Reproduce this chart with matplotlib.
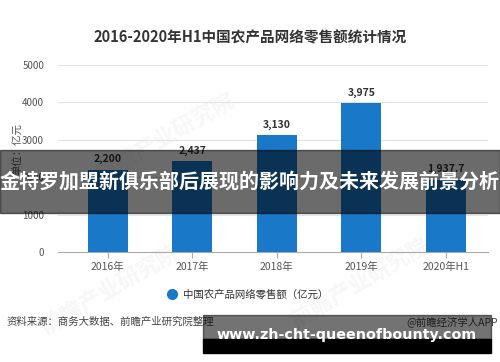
import matplotlib
matplotlib.use("Agg")
from matplotlib import pyplot as plt
from matplotlib.patches import Rectangle

plt.rcParams['font.family'] = ['Noto Sans CJK SC', 'DejaVu Sans']

# chart data
years = ['2016年', '2017年', '2018年', '2019年', '2020年H1']
sales = [2200, 2437, 3130, 3975, 1937.7]
value_labels = ['2,200', '2,437', '3,130', '3,975', '1,937.7']
y_ticks = [0, 1000, 2000, 3000, 4000, 5000]

title = '2016-2020年H1中国农产品网络零售额统计情况'
legend_label = '中国农产品网络零售额（亿元）'
source = '资料来源：商务大数据、前瞻产业研究院整理'
brand = '@前瞻经济学人APP'
banner = '金特罗加盟新俱乐部后展现的影响力及未来发展前景分析'
site = 'www.zh-cht-queenofbounty.com'

W, H = 500, 362
fig = plt.figure(figsize=(W / 100, H / 100), dpi=100)
fig.patch.set_facecolor('white')

def fx(px):
    return px / W

def fy(py):
    return 1 - py / H

# faint watermarks behind everything
for wx, wy in [(0.33, 0.62), (0.72, 0.22), (0.22, 0.20)]:
    fig.text(wx, wy, '前瞻产业研究院', rotation=30, fontsize=16, color='#f7f7f7',
             ha='center', va='center', fontweight='bold', zorder=-1)

ax = fig.add_axes([fx(58), fy(252), fx(488) - fx(58), fy(65) - fy(252)])
ax.patch.set_visible(False)
x = range(len(years))
ax.bar(x, sales, width=0.47, color='#1a78c8', zorder=3)
for i, (v, lab) in enumerate(zip(sales, value_labels)):
    ax.text(i, v + 140, lab, ha='center', va='bottom', fontsize=7.5,
            fontweight='bold', color='#333333', zorder=4)

ax.set_xlim(-0.59, 4.5)
ax.set_ylim(0, 5000)
ax.set_yticks(y_ticks)
ax.set_xticks(list(x))
ax.set_xticklabels(years)
ax.tick_params(axis='y', length=0, labelsize=7, labelcolor='#555555', pad=10)
ax.tick_params(axis='x', length=4, color='#aaaaaa', labelsize=7.5,
               labelcolor='#555555', pad=3)
ax.grid(axis='y', color='#e3e3e3', linewidth=0.8, zorder=0)
for s in ['top', 'right', 'left']:
    ax.spines[s].set_visible(False)
ax.spines['bottom'].set_color('#aaaaaa')
ax.set_ylabel('单位：亿元', fontsize=7.5, color='#555555')
ax.yaxis.set_label_coords(-0.08, 0.55)

fig.text(0.5, fy(38), title, ha='center', va='center', fontsize=10.5,
         fontweight='bold', color='#333333')

# legend
fig.lines.append(plt.Line2D([fx(172)], [fy(294)], marker='o', markersize=7,
                            color='#1a78c8', transform=fig.transFigure))
fig.text(fx(183), fy(294), legend_label, ha='left', va='center', fontsize=7.5,
         color='#333333')

fig.text(fx(7), fy(322), source, ha='left', va='center', fontsize=7.5,
         color='#444444')
fig.text(fx(498), fy(322), brand, ha='right', va='center', fontsize=7.5,
         color='#444444')

# overlay banner
fig.patches.append(Rectangle((0, fy(213)), 1, fy(150) - fy(213),
                             transform=fig.transFigure, color='black',
                             alpha=0.58, zorder=10))
fig.text(0.5, fy(181), banner, ha='center', va='center', fontsize=14.4,
         fontweight='bold', color='white', zorder=11)

# bottom website box
fig.patches.append(Rectangle((fx(203), fy(339)), fx(491) - fx(203), fy(315) - fy(339),
                             transform=fig.transFigure, color='black',
                             alpha=0.55, zorder=10))
fig.patches.append(Rectangle((fx(203), fy(353)), fx(491) - fx(203), fy(339) - fy(353),
                             transform=fig.transFigure, color='black', zorder=10))
fig.text(fx(347), fy(335), site, ha='center', va='center', fontsize=10.3,
         fontweight='bold', color='white', family=['DejaVu Sans'], zorder=11)

fig.savefig('out.png', dpi=100)
